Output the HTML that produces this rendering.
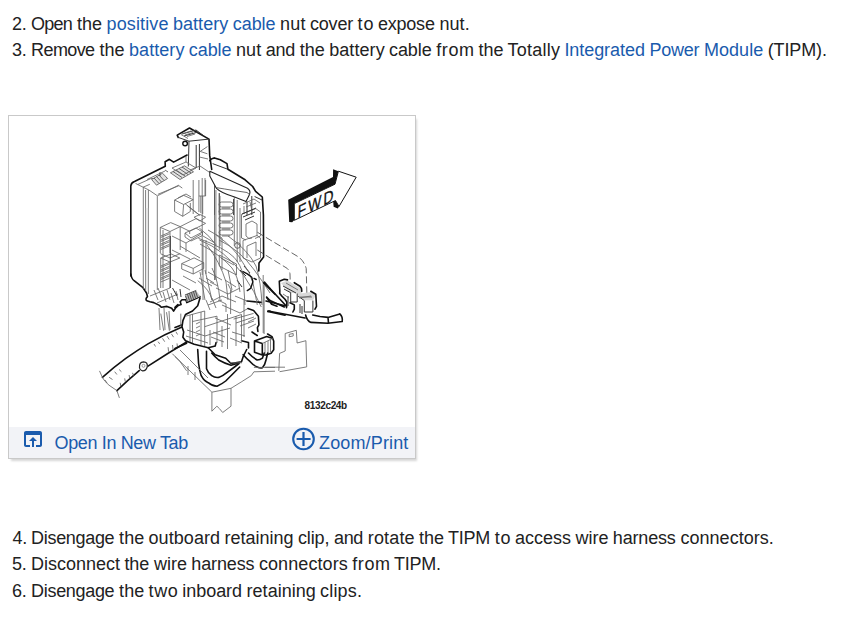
<!DOCTYPE html>
<html><head><meta charset="utf-8">
<style>
html,body{margin:0;padding:0;background:#fff;}
body{width:849px;height:629px;overflow:hidden;position:relative;font-family:"Liberation Sans",sans-serif;color:#222;}
.ln{position:absolute;left:0;width:849px;height:20px;font-size:18px;line-height:20px;white-space:nowrap;}
.ln span{position:absolute;top:0;}
.ln .a{color:#1a5bad;}
#box{position:absolute;left:8px;top:115px;width:406px;height:342px;border:1px solid #c6c6c6;background:#fff;box-shadow:2px 3px 2px -1px rgba(0,0,0,0.16);border-color:#c9c9c9;}
#foot{position:absolute;left:0;top:311px;width:406px;height:31px;background:#f2f3f7;}
.ft{position:absolute;font-size:18px;line-height:20px;color:#1a5bad;white-space:nowrap;}
svg{position:absolute;}
</style></head><body>
<div class="ln" id="l1" style="top:14px"><span style="left:12.0px;letter-spacing:-0.25px">2.</span><span style="left:31.1px;letter-spacing:-0.81px">Open</span><span style="left:77.1px;letter-spacing:-0.03px">the</span><span class="a" style="left:106.6px;letter-spacing:0.11px">positive</span><span class="a" style="left:172.9px;letter-spacing:0.07px">battery</span><span class="a" style="left:232.8px;letter-spacing:-0.08px">cable</span><span style="left:280.0px;letter-spacing:0.22px">nut</span><span style="left:309.9px;letter-spacing:-0.16px">cover</span><span style="left:357.6px;letter-spacing:0.84px">to</span><span style="left:377.9px;letter-spacing:-0.20px">expose</span><span style="left:439.4px;letter-spacing:0.10px">nut.</span></div>
<div class="ln" id="l2" style="top:40px"><span style="left:12.0px;letter-spacing:-0.27px">3.</span><span style="left:31.1px;letter-spacing:-0.61px">Remove</span><span style="left:99.5px;letter-spacing:0.01px">the</span><span class="a" style="left:129.0px;letter-spacing:0.06px">battery</span><span class="a" style="left:188.8px;letter-spacing:-0.07px">cable</span><span style="left:235.9px;letter-spacing:0.15px">nut</span><span style="left:265.8px;letter-spacing:-0.27px">and</span><span style="left:299.7px;letter-spacing:0.06px">the</span><span style="left:329.2px;letter-spacing:0.08px">battery</span><span style="left:389.0px;letter-spacing:-0.07px">cable</span><span style="left:436.2px;letter-spacing:0.62px">from</span><span style="left:478.4px;letter-spacing:0.06px">the</span><span style="left:507.5px;letter-spacing:0.25px">Totally</span><span class="a" style="left:564.4px;letter-spacing:-0.06px">Integrated</span><span class="a" style="left:649.4px;letter-spacing:-0.24px">Power</span><span class="a" style="left:703.9px;letter-spacing:0.06px">Module</span><span style="left:767.7px;letter-spacing:-0.13px">(TIPM).</span></div>
<div id="box">
  <div id="foot">
    <svg style="left:12px;top:0px" width="24" height="24" viewBox="0 0 24 24"><path fill="#1a5bad" d="M19 4H5c-1.11 0-2 .9-2 2v12c0 1.1.89 2 2 2h4v-2H5V8h14v10h-4v2h4c1.1 0 2-.9 2-2V6c0-1.1-.89-2-2-2zm-7 6l-4 4h3v6h2v-6h3l-4-4z"/></svg>
    <div class="ft" id="ot" style="left:45.5px;top:6px;letter-spacing:-0.36px">Open In New Tab</div>
    <svg style="left:280px;top:0px" width="28" height="28" viewBox="0 0 28 28"><circle cx="14.5" cy="12.0" r="10.3" fill="none" stroke="#1a5bad" stroke-width="2.1"/><path d="M7.6 12.0h14M14.5 5.1v13.8" stroke="#1a5bad" stroke-width="2.2"/></svg>
    <div class="ft" id="zp" style="left:310px;top:6px;letter-spacing:0.15px">Zoom/Print</div>
  </div>
</div>
<div class="ln" id="l4" style="top:528px"><span style="left:12.6px;letter-spacing:-0.27px">4.</span><span style="left:31.1px;letter-spacing:-0.32px">Disengage</span><span style="left:119.1px;letter-spacing:0.05px">the</span><span style="left:148.5px;letter-spacing:0.07px">outboard</span><span style="left:224.4px;letter-spacing:0.01px">retaining</span><span style="left:298.0px;letter-spacing:-0.14px">clip,</span><span style="left:333.9px;letter-spacing:-0.27px">and</span><span style="left:367.8px;letter-spacing:0.15px">rotate</span><span style="left:419.0px;letter-spacing:0.00px">the</span><span style="left:448.0px;letter-spacing:-0.23px">TIPM</span><span style="left:494.7px;letter-spacing:0.82px">to</span><span style="left:514.9px;letter-spacing:0.01px">access</span><span style="left:575.4px;letter-spacing:0.01px">wire</span><span style="left:612.8px;letter-spacing:-0.16px">harness</span><span style="left:680.4px;letter-spacing:0.04px">connectors.</span></div>
<div class="ln" id="l5" style="top:554px"><span style="left:12.0px;letter-spacing:-0.27px">5.</span><span style="left:31.1px;letter-spacing:-0.02px">Disconnect</span><span style="left:124.4px;letter-spacing:-0.04px">the</span><span style="left:153.9px;letter-spacing:0.01px">wire</span><span style="left:191.3px;letter-spacing:-0.13px">harness</span><span style="left:258.9px;letter-spacing:0.09px">connectors</span><span style="left:352.2px;letter-spacing:0.62px">from</span><span style="left:394.1px;letter-spacing:-0.26px">TIPM.</span></div>
<div class="ln" id="l6" style="top:581px"><span style="left:12.0px;letter-spacing:-0.27px">6.</span><span style="left:31.1px;letter-spacing:-0.32px">Disengage</span><span style="left:119.1px;letter-spacing:0.06px">the</span><span style="left:148.5px;letter-spacing:0.68px">two</span><span style="left:182.3px;letter-spacing:-0.05px">inboard</span><span style="left:246.6px;letter-spacing:0.01px">retaining</span><span style="left:320.1px;letter-spacing:0.16px">clips.</span></div>
<svg id="dg" style="left:0;top:0" width="849" height="629" viewBox="0 0 849 629">
<style>
.k{stroke:#111;stroke-width:1.6;fill:none;stroke-linejoin:round;stroke-linecap:round}
.m{stroke:#333;stroke-width:1;fill:none;stroke-linejoin:round}
.t{stroke:#666;stroke-width:0.85;fill:none;stroke-linejoin:round}
.d{stroke:#555;stroke-width:0.9;fill:none;stroke-dasharray:7 3}
</style>
<!-- TIPM main outline -->
<path class="k" d="M130.9,276 L130.8,186 Q131.2,182.5 134.5,181.5 L165.3,166.2 L165.1,161.8 L169.4,159.3 L173.6,162.1 L187.1,155"/>
<path class="k" d="M130.8,274 Q131.5,279 134.1,280.6 L143,287.7 L146.5,293 L147.5,296.5 L146.2,298.3 Q145.5,300.5 147.5,301 L150,301.7 L153.8,302.6 L159.4,305.4 L161.3,307.3 L167,306.4 L171.7,308.3 L173.6,311.1 L175.4,308.3 L178.3,305.4 L181.1,304.5 L180.2,301.7 L182,299.8 L185.8,299.8 L186.8,302.6 L197.1,297.9 L200,296.5"/>
<!-- clip post -->
<path class="k" d="M178.2,137.4 L177.2,135.1 L189.5,128 L209,139.1 L209.7,155.4 L211.7,169.5"/>
<path class="m" d="M178.2,137.4 L189,141.2 L209,139.1 M189,141.2 L188.3,166.5 M196.2,145 L196.2,168 M199.4,144 L199.4,170 M182,134 L196,130 L204,136 M184,136 L198,132"/>
<circle cx="185.1" cy="143.5" r="2.3" fill="none" stroke="#111" stroke-width="1.4"/>
<path class="t" d="M207.4,146.6 L200.2,151.4 L207.4,153.8 M199.4,157 L208,159 M183,133.5 L191,131 M185,135 L193,132.5 M187,136.5 L195,134 M181,134.5 L188,138.5"/>
<!-- right ledge & right edge -->
<path class="k" d="M209.8,160.7 Q211,158.5 214.5,157.9 L220.3,159.8 L227,163.6 L227.9,169.3 L245.1,179.8 L252.7,186.5 L255.6,191.3 L262.3,197 L263.4,215 L263.6,257 L260.7,260.8 L259,263 L258.8,271"/>
<!-- hood bar -->
<path class="m" d="M212.6,163.6 L227.9,169.3 M214.5,181.7 L214.5,215 M219.3,193.2 L219.3,215 M233.6,199 L233.6,215 M247,201.5 L247,215 M251.8,196 L251.8,215 M254.6,196.5 L262,200"/>
<!-- left face inner lines -->
<path class="t" d="M143.3,187.2 L143.3,289 M145.6,190 L145.6,291 M148.4,190 L148.4,294 M157.3,196.2 L157.3,290"/>
<path fill="#e6e6e6" d="M145.9,208 L148.1,208 L148.1,291 L145.9,291Z"/>
<!-- top face -->
<path class="t" d="M135.5,183.4 L143.1,187.2 L149.8,184.3 M148.9,190 L157.4,195.8 L178.4,185.3 L182.3,188.1 M143.1,187.2 L148.9,190 M147,179.5 L165,171 M150.8,178.6 L167,177.6 M137.9,184.4 L150.8,178.6"/>
<path fill="#e2e2e2" stroke="#555" stroke-width="0.8" d="M151.6,179.5 L162.5,173.2 L167.6,178.5 L156.5,185.2 Z M170.4,172.8 L184.5,165.8 L193.5,171.8 L180,179.5 Z"/>
<path stroke="#444" stroke-width="0.8" fill="none" d="M154,178 L159,183.5 M156.5,176.5 L161.5,182 M159,175 L164,180.5 M173,171.5 L182,177.5 M176,170 L185,176 M179,168.5 L188,174.5 M182,167 L191,173 M160,172 L160,176 M165,170 L168,172"/>
<path class="t" d="M172,168 L186,162 L196,168 L183,175Z M186,162 L186,156 M190,170 L200,166 L212,174"/>
<!-- FWD arrow -->
<path fill="#111" d="M288.2,199.7 L333,177 L333.1,169.3 L338.4,171.2 L335,184.2 L294.3,203.6 L294.3,220.1 L292.2,222.3 L289.2,222 Z"/>
<path fill="#111" d="M333.2,201 L335.5,200.5 L339,206.5 L337.8,208.6 L333.6,206.8Z"/>
<path fill="#fff" stroke="#111" stroke-width="1" stroke-linejoin="miter" d="M294.3,203.6 L335,184.2 L338.4,171.2 L356.2,177.2 L339,206.5 L335.5,200.5 L294.3,220.3 Z"/>
<text x="0" y="0" font-family="Liberation Sans" font-size="17.5" fill="#111" stroke="#111" stroke-width="0.3" letter-spacing="2.4" transform="matrix(0.80,-0.39,-0.03,1,297.6,218.3)">FWD</text>
<!-- dashed lines -->
<path class="d" d="M257.3,232.2 L298.6,257 Q304,261 306.2,268.4 L306.9,295"/>
<path class="d" d="M257.3,250 L287.2,268.4 Q289.7,271 290,274 L290.3,286.2"/>
<!-- right sockets -->
<path class="t" d="M241.5,214.3 L255.8,208.6 L260.5,212 L260.5,236 L255,238.5 M241.5,214.3 L241.5,238 L246,240 M246,224 L252,221 L257,224 L257,236 M246,224 L246,236 Q249,240 252,238 M243,240.5 L257,235.5 L260.5,238 L260.5,258 L252,262 L243,258 Z M247,246 L256,242 L256,256 M247,246 L247,258 M240,208 L240,262 M237.2,200 L237.2,262 M243,204 L254,199 L260,203 M244,206 L244,214 M250,202 L252,211 M246,207 L256,203"/>
<path class="m" d="M242,214 L256,208 M243,217 L255,212 M245,220 L254,216"/>
<circle cx="237.5" cy="245.5" r="2.8" fill="none" stroke="#555" stroke-width="0.9"/>
<!-- right connectors -->
<path fill="#d8d8d8" d="M281,283 L287.5,280.5 L301.5,289 L301.8,293 L293,296 Z M297,294 L310.8,292 L315.8,295 L312.9,300.6 L304.3,300.6 Z"/>
<path fill="#fff" d="M290.7,292.7 L297.2,293.5 L297.2,302 L290.7,302 Z M304.3,300.6 L312.9,300.6 L312.9,312 L304.3,312 Z"/>
<path class="k" d="M279.8,291 L279.3,281.3 L284.3,279.2 L287.5,279.9 M279.8,291 L279.7,293.5 L281.4,295.6 L285,299.2 L286.8,302 L286.5,307.8 M294.3,282.7 L300,286.3 L301.5,288.5 L301.8,291.3 M290,302.8 L294.3,304.9 L294.3,309.2 L292.9,312 M310.8,291.3 L315.8,294.2 L316.5,306.3 L315,309.2"/>
<path class="m" d="M290.7,292.7 L290.7,302 L297.2,302 L297.2,293.5 M304.3,300.6 L304.3,312 M312.9,300.6 L312.9,312 L304.3,312 M283,286 L296,293 M284,289 L290.7,292.7 M298,296 L304.3,300.6 M300,304 L300,313 M302,306 L302,314 M288,296 L288,306"/>
<path class="t" d="M283,294 L289,298 M299,298 L311,296 M286,283 L298,290 M300,297 L312,297"/>
<path class="k" d="M270,288.5 L286.5,306.3 M270,300.6 L284.3,307 M268,311 L305,318"/>
<!-- right cable -->
<path class="k" d="M305.6,315 Q307,321 311,322.4 L328,323.3 L342.2,321.5 M312.7,315 L320,316.5 L328,317.4 L339.8,313.9 M328,317.4 L328.5,323.3 M339.8,313.9 Q343,317 342.2,321.5"/>
<path class="k" d="M264.4,282 L270,288.5 M266.8,297.4 L270,300.6 M268,311.5 L270,311"/>
<path class="t" d="M263.2,275 L263.2,333"/>
<!-- bracket plate -->
<path class="t" d="M278.8,370.9 L279.6,353.4 L285.2,351 L285.2,333.5 L296.3,330.3 L297.1,343 L305.9,340.7 L306.7,366.9 L279.6,371.7 M289.2,334.3 L293.2,333.5 L293.2,336 L289.2,336.7Z"/>
<!-- label -->
<text x="304.6" y="409" font-family="Liberation Sans" font-weight="bold" font-size="10" fill="#222" letter-spacing="-0.35">8132c24b</text>
<!-- harness cable -->
<path class="k" d="M102.4,377.3 Q114,367 125.8,358.4 Q137,350.5 148,343.9 Q165,334 181.4,327.2"/>
<path class="k" d="M116.9,390.6 Q128,380 139.2,370.6 M148,366.2 Q168,353 187,341.7"/>
<path fill="#fff" stroke="#222" stroke-width="1.2" d="M139.5,368 Q139,362 143.5,361.8 Q148,362 147.2,367 Q146,371 142.5,370.8 Q140,370.5 139.5,368Z"/>
<circle cx="143.5" cy="365.8" r="1.5" fill="none" stroke="#777" stroke-width="0.7"/>
<path class="t" d="M99.5,370.9 L102.4,377.3 Q104,381 109,385.2 L116.9,390.6 L119.4,397.9"/>
<path class="t" d="M158.1,341.7 L159.7,343.9 M162.5,338.3 L164.7,341.7 M167,336.1 L169.2,339.5 M171.4,333.9 L173.6,337.2 M175.9,331.7 L177.5,334.5 M168.6,351.7 L168.1,347.2 M173.1,350 L172.5,345 M177.5,347.8 L177,343.4 M109.1,377.3 L112.5,379.5 M114.7,371.7 L116.9,374.5 M119.1,369.5 L121.4,371.7 M120.8,386.2 L120.2,382.8 M125.3,381.7 L124.7,378.4 M129.7,378.4 L129.1,375 M133.6,375.6 L132.5,372.8 M105,380 L107,383 M154,344 L155.5,346.5"/>
<path class="t" d="M199.5,240 Q225,250 243.7,275.3 Q255,292 261.3,307 M219,240 Q240,250 254.3,270 Q263,282 270,293 M197.7,280.6 Q210,290 212,300 M203,240 L203,300 M207,245 Q220,262 226,282 L228,300"/>
<path class="m" d="M240,270 L246,276 M244,266 L250,273 M237,280 L242,287"/>
<path class="t" d="M154,290 L158,300 M158,288 L162,298 M163,292 L166,302 M167,290 L170,300 M171,293 L174,303 M150,296 L170,288 M157,303 L178,294 M176,291 L178,300 M159,308 L160,330 M164,308 L165,330 M169,311 L170,330"/>
<!-- bottom connector cluster -->
<path class="k" d="M200,297.9 L197.7,305.7 L192.5,311 L185.5,314.5 L182.9,320.6 L182,326.7 L183.7,332 L182.9,337.2 L185.5,340.7 L194.2,344.2 L208.2,347.7 L215.2,346 L216.1,342.5"/>
<path class="k" d="M208.2,347.7 L215.2,354.7 L225.7,358.2 L231,363.5 L241.5,361.7 L243.2,356.5 L246.7,349.5 M241.5,340.7 L248.5,342.5 L248.5,348 M252,332 L257.2,335.5"/>
<path class="k" d="M175,327.5 L181.5,325 M175,348.4 L186.6,343.2 M175,307.4 L177.9,304.5 M247,301 L261.3,302.4 M247.9,308.6 L253.6,310.5 L258.4,316.2 L258.9,324.8 L257.4,327.7 L257.9,331.5 M266,301 L285,305.7 M267.9,311.5 L285,315.3 M263.7,282.9 L275,294.3 M266.6,297.2 L271.6,304.3 L277,306.2"/>
<path class="k" d="M267.6,334 L272,336.6 L273.7,341 L273.7,349.7 L271.1,353.2 L265.8,355 L262.3,355 L254.5,352.3 L254.5,341 L266.7,336.6 L272.8,338.4 M262.3,355 L262.3,343.5 L254.5,341"/>
<path class="t" d="M262.3,343.5 L272.8,338.4 M265,342 L265,354 M268,341 L268,353 M270.5,340 L270.5,352"/>
<path class="t" d="M185.5,316.2 L204.7,311 M192.5,321.5 L217,316.2 M204.7,326.7 L241.5,314.5 M187,330 L205,336 L230,328 M186,336 L208,343 M190,315 L190,342 M192.5,314 L192.5,343 M201,312 L201,345 M204.7,311 L204.7,346 M217,316.2 L217,343 M227.5,314 L227.5,349 M236,316 L236,346 M241.5,314.5 L241.5,341 M210,330 L210,345 M222,326 L222,347 M196,324 L200,322 M196,328 L200,326 M196,332 L200,330 M196,336 L200,334 M213,332 L225,337 M211,337 L224,342 M232,332 L245,336 M230,338 L242,343"/>
<path class="t" d="M233.6,319.1 L253.6,313.4 M236,323 L254,317 M240,326 L254,321 M244,300 L244,337 M230.6,290 L230.6,314 M264.1,285 L264.1,334 M222,305 L240,313 L247,309 M210,302 L222,296 L236,302 M235,296 L247,301 M215,318 L231,325 M248,322 L256,318 M248,328 L256,324"/>
<path class="t" d="M200,272 L205,300 M205,270 L212,300 M212,268 Q218,280 220,300 M228,270 L232,290 M216,288 L228,294 L240,288 M210,282 L218,286 M206,300 L210,310 M212,298 L216,308 M218,300 L226,304 L226,312 M208,305 L222,300"/>
<path fill="#bbb" d="M184.9,295 L196.2,290.4 L200,296.5 L186.8,302.1 Z"/>
<path stroke="#333" stroke-width="0.8" fill="none" d="M185.5,296 L187.5,301.5 M187.5,294.2 L189.5,300.7 M189.5,293.4 L191.5,299.8 M191.5,292.6 L193.5,299 M193.5,291.8 L195.5,298.1 M195.5,291 L197.5,297.3 M184.9,295 L196.2,290.4"/>
<!-- U cables -->
<path class="k" d="M197.7,349.5 L198.6,363.5 Q199.5,371 201.2,375.7 Q204,381 208.2,382.7 Q212,386 217,386.2 Q222,384 225.7,381 L232.7,374 L239.7,367"/>
<path class="k" d="M206.5,351.2 L206.5,368.7 Q208,373 211.7,375.7 Q215,378 218.7,377.4 Q223,376 227.5,372.2 L234.5,367 L239,363.5"/>
<path class="k" d="M211.7,353 Q215,357 218.7,360 Q225,363.5 231,365.2 L239,363"/>
<path class="k" d="M243.2,354.7 Q246,358 250.2,361.7 Q253,365 257.2,367 Q260,368.5 262.4,367.8 Q265,365 266,360 L267.7,353 M248.5,353 Q252,357 257.2,360 Q260,360 262.4,358.2 L264.2,353"/>
<path class="t" d="M230,362.8 L242,362.8 M265,367.2 L285,367.2"/>
<!-- bottom bracket -->
<path class="t" d="M175,356.5 L211.9,392.2 L211.9,411.2 L216.9,406.2 L219.5,408.7 L222.7,412.5 L231,406.2 L231,388.3 L241.2,382 L251.3,375.6 L253.9,371.8 L275,371.2 M253.9,367.4 L275,367.4 M211.9,392.2 L231,388.3 M180,350 L208,378 M188,366 L188,375 M195,372 L195,380"/>
<path class="t" d="M172.3,353.7 Q180,360 186.6,370.8 M160.8,313.6 L163.7,330.8 M166.5,312.2 L169.4,330.8 M180.8,313.6 L180.8,326"/>
<!-- interior: upper relays -->
<path class="t" d="M157.9,194.3 L178.9,185.7 M174.6,200 L183.6,195.3 L193.2,199.7 L183.6,204.5 Z M174.6,200 L174.6,211.5 L182.7,216.3 L190.3,211.5 L190.3,203 M183.6,204.5 L182.7,216.3 M178,198 L186,194 L191,197 M187.4,205.8 L199.8,215.3"/>
<path class="t" d="M193.2,180 L193.2,214 M198.9,180 L198.9,212 M200.8,196 L200.8,213 M202.7,196 L202.7,214 M205.6,180 L205.6,196 L198.9,196 M194.1,217.2 L200,214.5 L205.6,217.2 L200,221 Z"/>
<path class="t" d="M160.3,227.4 L170.7,222.6 L180.2,226.6 L170,231.5 Z M160.3,227.4 L160.3,253 M170,231.5 L170,253 M160.3,253.6 L170,258 L180.2,253.6 M180.2,226.6 L196.1,218.6 L205.6,223.4 L189.7,231.3 Z M185,233 L196,228 L202.5,232 L191,238 Z M185,233 L185,237 L191,241 L202.5,235.5 L202.5,232 M180.2,226.6 L180.2,250 M189.7,231.3 L189.7,234 M163,230 L163,288 M160.8,236 L169.5,232.3 M160.8,237.5 L169.5,233.8 M160.8,240 L169.5,236.3 M160.8,241.5 L169.5,237.8 M160.8,244 L169.5,240.3 M160.8,245.5 L169.5,241.8 M160.8,248 L169.5,244.3 M160.8,249.5 L169.5,245.8"/>
<path class="t" d="M160.7,258 L171.2,254 L179.8,258 L170,262Z M160.7,258 L160.7,288 M170,262 L170,288 M160.8,266 L169.5,262.3 M160.8,267.5 L169.5,263.8 M160.8,270 L169.5,266.3 M160.8,271.5 L169.5,267.8 M160.8,274 L169.5,270.3 M160.8,275.5 L169.5,271.8 M160.8,278 L169.5,274.3 M160.8,279.5 L169.5,275.8 M160.8,282 L169.5,278.3 M181.7,263.6 L194.1,257.9 L203.7,262.7 L193.2,268.4 Z M181.7,263.6 L181.7,269 L193.2,274 L203.7,268.5 L203.7,262.7 M193.2,268.4 L193.2,274"/>
<path class="t" d="M172,236 L186,243 L201,234 M180,246 L200,258 M186,243 L186,252 M172,250 L190,259 M203,236 L215,243 M208,230 L222,238 L222,270 M172,280 L190,290 M183,276 L196,283 M199,278 L212,286"/>
<path class="m" d="M170.3,236 L170.3,288 M172.5,288 L177,296 M180,289 L181,297"/>
<!-- fuse column -->
<path class="t" d="M214.5,182 L214.5,280 M215.9,190 L215.9,280 M219.3,193 L219.3,250 M202.2,178 L202.2,275 M205,178 L205,196 M206,240 L206,274"/>
<path class="t" d="M220,196 L220,246 M234.3,196 L234.3,246"/>
<path fill="none" stroke="#666" stroke-width="0.9" d="M221.5,202 h9 a2,2 0 0 1 0,5 h-9 a2,2 0 0 1 0,-5z M221.5,209 h9 a2,2 0 0 1 0,5 h-9 a2,2 0 0 1 0,-5z M221.5,216 h9 a2,2 0 0 1 0,5 h-9 a2,2 0 0 1 0,-5z M221.5,223 h9 a2,2 0 0 1 0,5 h-9 a2,2 0 0 1 0,-5z M221.5,230 h9 a2,2 0 0 1 0,5 h-9 a2,2 0 0 1 0,-5z"/>
<path class="t" d="M222,208 L230,208 M222,215 L230,215 M222,222 L230,222 M222,229 L230,229 M222,236 L230,236"/>
<!-- interior wires -->
<path class="t" d="M185,203.6 L199.3,215 M198.4,238.3 Q225,248 234,257.3 Q241,265 243,275 L245,305 M216.2,235 Q235,248 242.9,262.8 Q250,272 253,283 L257.3,305 M200,244 Q222,256 232,268 Q238,276 240,292 M228,236 Q248,250 256,266 Q261,282 262,305 M199.3,228 Q210,236 216.2,245"/>
<path class="t" d="M219.3,255 L236.5,264 L236.5,275 L219.3,266Z M221,258 L234,265 M208,272 L222,280 M206,278 L214,283 M225,280 L236,287 M228,284 L232,292"/>
<path class="k" style="stroke-width:1.4" d="M242.9,271.7 L247.3,273.9 L251.8,277.3 L252.9,281.7 L250.6,288.4 L247.3,290.6 M254,278.4 L256.2,279.5"/>
<!-- hood on top -->
<path fill="#fff" stroke="#222" stroke-width="1.1" stroke-linejoin="round" d="M209.8,171.2 L247.5,188.2 Q251,190.5 249.5,194.5 L246,201.5 L234.6,197 Q221,193 216.5,188.4 L209.8,176 Z"/>
<path fill="none" stroke="#555" stroke-width="0.9" d="M215.5,187.5 Q225,189 233.6,190.5 L247,192.5 L249.5,194.5"/>
</svg>
</body></html>
